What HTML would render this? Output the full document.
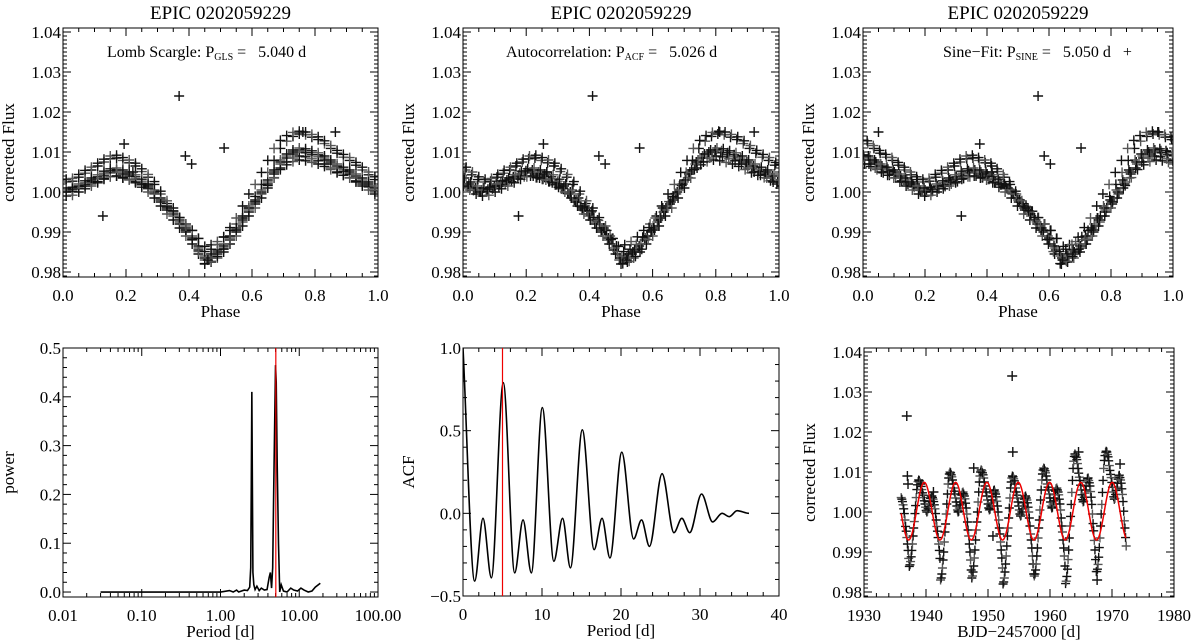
<!DOCTYPE html>
<html><head><meta charset="utf-8"><style>
html,body{margin:0;padding:0;background:#fff}
svg{display:block}
text{font-family:"Liberation Serif",serif;fill:#000}
</style></head><body>
<svg id="fig" width="1200" height="644" viewBox="0 0 1200 644" xmlns="http://www.w3.org/2000/svg"></svg>
<script>
// ---- light curve data (flux sampled every lcStep days from 1936.0) ----
const lcStart = 1936.0, lcStep = 0.1008;
const lcFlux = [
1.0036,1.0032,1.0026,1.0018,1.0008,.9996,.998,.9964,.9952,.9936,.992,.9904,.9884,
.9864,.9868,.9876,.9888,.9904,.992,.994,.996,.9976,.9996,1.0016,1.0036,1.0056,1.0068,1.0076,1.008,1.0078,1.0074,1.007,1.0064,1.0056,1.0048,1.0042,1.0036,1.0028,1.002,1.0012,1.0004,1.0,1.0002,1.0008,1.0014,1.002,1.0026,1.0034,1.0038,1.004,1.0036,1.0032,1.0026,1.0018,1.0008,.9996,.998,.9964,.9952,.9936,.992,.9904,.9884,
.983,.9835,.9845,.986,.988,.990,.9925,.995,.997,.9995,1.002,1.0045,1.007,1.0085,1.0095,1.010,1.0098,1.0093,1.0088,1.008,1.007,1.006,1.0052,1.0045,1.0035,1.0025,1.0015,1.0005,1.000,1.0002,1.001,1.0018,1.0025,1.0033,1.0042,1.0048,1.005,1.0045,1.004,1.0033,1.0022,1.001,.9995,.9975,.9955,.994,.992,.990,.988,.9855,
.9835,.984,.985,.9865,.9885,.9905,.993,.9955,.9975,1.0,1.0025,1.005,1.0075,1.009,1.01,1.0105,1.0103,1.0098,1.0093,1.0085,1.0075,1.0065,1.0057,1.005,1.004,1.003,1.002,1.001,1.0005,1.0007,1.0015,1.0023,1.003,1.0038,1.0047,1.0053,1.0055,1.005,1.0045,1.0038,1.0027,1.0015,1.0,.998,.996,.9945,.9925,.9905,.9885,.986,
.982,.9825,.9835,.985,.987,.989,.9915,.994,.996,.9985,1.001,1.0035,1.006,1.0075,1.0085,1.009,1.0088,1.0083,1.0078,1.007,1.006,1.005,1.0042,1.0035,1.0025,1.0015,1.0005,.9995,.999,.9992,1.0,1.0008,1.0015,1.0023,1.0032,1.0038,1.004,1.0035,1.003,1.0023,1.0012,1.0,.9985,.9965,.9945,.993,.991,.989,.987,.9845,
.984,.9845,.9855,.987,.989,.991,.9935,.996,.998,1.0005,1.003,1.0055,1.008,1.0095,1.0105,1.011,1.0108,1.0103,1.0098,1.009,1.008,1.007,1.0062,1.0055,1.0045,1.0035,1.0025,1.0015,1.001,1.0012,1.002,1.0028,1.0035,1.0043,1.0052,1.0058,1.006,1.0055,1.005,1.0043,1.0032,1.002,1.0005,.9985,.9965,.995,.993,.991,.989,.9865,
.9821,.9827,.9839,.9857,.9881,.9905,.9935,.9965,.9989,1.0019,1.0049,1.0079,1.0109,1.0127,1.0139,1.0145,1.0143,1.0137,1.0131,1.0121,1.0109,1.0097,1.0087,1.0079,1.0067,1.0055,1.0043,1.0031,1.0025,1.0027,1.0037,1.0047,1.0055,1.0065,1.0075,1.0083,1.0085,1.0079,1.0073,1.0065,1.0051,1.0037,1.0019,.9995,.9971,.9953,.9929,.9905,.9881,.9851,
.9851,.9857,.9869,.9887,.9911,.9935,.9965,.9995,1.0019,1.0049,1.0079,1.0109,1.0129,1.0141,1.0149,1.0152,1.0150,1.0144,1.0138,1.0128,1.0116,1.0104,1.0094,1.0086,1.0074,1.0062,1.0050,1.0038,1.0032,1.0034,1.0044,1.0054,1.0062,1.0072,1.0082,1.0090,1.0092,1.0086,1.0080,1.0072,1.0058,1.0044,1.0026,1.0002,.9978,.9960,.9936,.9915];
const outT = [1936.9,1937.0,1937.1,1941.2,1947.7,1950.8,1954.0,1964.6,1967.6,1971.3];
const outF = [1.024,1.009,1.007,1.005,1.011,0.994,1.015,1.015,0.983,1.012];
const extraT = [1953.9];
const extraF = [1.034];
// phase folding parameters [period, epoch]
const foldP = [5.040, 5.026, 5.050];
const foldT0 = [1935.042, 1934.839, 1934.048];
// sine fit [mean, amplitude, period, time of minimum]
const sineFit = [1.0002, 0.0072, 5.05, 1937.2];
// GLS periodogram
const glsPeriod = [0.03,0.3,1.0,1.3,1.45,1.6,1.7,2.0,2.2,2.35,2.42,2.46,2.5,2.54,2.58,2.65,2.75,2.9,3.1,3.3,3.6,3.9,4.15,4.3,4.45,4.6,4.75,4.9,5.0,5.1,5.25,5.45,5.65,5.9,6.3,7.0,7.8,8.5,9.5,10.5,11.5,13,14.5,16,18.5];
const glsPower  = [0,0,0.0,0.003,0,0.004,0,0.004,0.003,0.01,0.05,0.22,0.41,0.22,0.04,0.015,0.005,0.012,0.003,0.008,0.004,0.005,0.03,0.04,0.008,0.05,0.22,0.37,0.465,0.43,0.26,0.1,0.0,0.015,0.002,0.0,0.008,0.004,0.002,0.008,0.004,0,0.002,0.01,0.018];
const glsBest = 5.04;
// ACF extrema
const acfLag = [0,1.48,2.53,3.59,5.1,6.54,7.6,8.65,10.04,11.5,12.6,13.6,15.1,16.6,17.6,18.6,20.1,21.6,22.6,23.6,25.2,26.7,27.7,28.7,30.2,31.6,32.8,33.7,34.7,36.2];
const acfVal = [1.0,-0.41,-0.03,-0.39,0.79,-0.36,-0.04,-0.36,0.64,-0.29,-0.03,-0.33,0.505,-0.22,-0.03,-0.27,0.37,-0.155,-0.04,-0.2,0.24,-0.117,-0.03,-0.117,0.117,-0.052,0.0,-0.02,0.016,0.0];
const acfBest = 5.0;

const NS='http://www.w3.org/2000/svg';
const svg=document.getElementById('fig');
function el(tag,attrs,parent){const e=document.createElementNS(NS,tag);for(const k in attrs)e.setAttribute(k,attrs[k]);(parent||svg).appendChild(e);return e;}
function txt(s,x,y,size,anchor,parent){const t=el('text',{x:x,y:y,'font-size':size,'text-anchor':anchor||'middle'},parent);t.textContent=s;return t;}

function panel(name,box,xd,yd,o){
  const g=el('g',{});
  
  
  const [L,T,R,B]=box;
  const lx=o.logx;
  const sx=v=>lx? L+(Math.log10(v)-Math.log10(xd[0]))/(Math.log10(xd[1])-Math.log10(xd[0]))*(R-L) : L+(v-xd[0])/(xd[1]-xd[0])*(R-L);
  const sy=v=>B-(v-yd[0])/(yd[1]-yd[0])*(B-T);
  const ax=el('g',{stroke:'#000','stroke-width':1,fill:'none'},g);
  
  
  el('rect',{x:L,y:T,width:R-L,height:B-T},ax);
  const xl=el('g',{},g);
  
  
  if(lx){
    for(let d=Math.log10(xd[0]);d<=Math.log10(xd[1])+1e-9;d++){
      const v=Math.pow(10,d),x=sx(v);
      el('line',{x1:x,y1:B,x2:x,y2:B-8},ax);el('line',{x1:x,y1:T,x2:x,y2:T+8},ax);
      txt(o.xlabels[Math.round(d-Math.log10(xd[0]))],x,B+24,17,'middle',xl);
      if(v<xd[1]) for(let m=2;m<10;m++){const xm=sx(v*m);el('line',{x1:xm,y1:B,x2:xm,y2:B-4},ax);el('line',{x1:xm,y1:T,x2:xm,y2:T+4},ax);}
    }
  } else {
    const n=Math.round((xd[1]-xd[0])/o.xminor);
    for(let i=0;i<=n;i++){const v=xd[0]+i*o.xminor,x=sx(v);const maj=Math.abs(((v-xd[0])/o.xmajor)-Math.round((v-xd[0])/o.xmajor))<1e-6;const l=maj?8:4;
      el('line',{x1:x,y1:B,x2:x,y2:B-l},ax);el('line',{x1:x,y1:T,x2:x,y2:T+l},ax);}
    o.xticks.forEach((v,i)=>txt(o.xlabels[i],sx(v),B+24,17,'middle',xl));
  }
  const yl=el('g',{},g);
  
  
  const y0=Math.ceil(yd[0]/o.yminor-1e-6)*o.yminor;
  for(let v=y0;v<=yd[1]+1e-9;v+=o.yminor){const y=sy(v);const r=v/o.ymajor;const maj=Math.abs(r-Math.round(r))<1e-4;const l=maj?8:4;
    el('line',{x1:L,y1:y,x2:L+l,y2:y},ax);el('line',{x1:R,y1:y,x2:R-l,y2:y},ax);}
  o.yticks.forEach((v,i)=>txt(o.ylabels[i],L-2,sy(v)+6,17,'end',yl));
  const xt=txt(o.xtitle,(L+R)/2,B+40,17,'middle',g);
  
  
  const yt=txt(o.ytitle,0,0,17,'middle',g);
  yt.setAttribute('transform','translate('+(L-49)+','+((T+B)/2)+') rotate(-90)');
  
  
  if(o.title){const tt=txt(o.title,(L+R)/2,19,19,'middle',g);
    
    }
  const clipId='c'+name;
  const cp=el('clipPath',{id:clipId},g);el('rect',{x:L,y:T,width:R-L,height:B-T},cp);
  const plot=el('g',{'clip-path':'url(#'+clipId+')'},g);
  return {sx,sy,g,plot};
}
function plus(x,y,parent,a,col){el('path',{d:'M'+(x-a)+' '+y+'H'+(x+a)+'M'+x+' '+(y-a)+'V'+(y+a),stroke:col||'#111','stroke-width':1.4,fill:'none'},parent);}

const fluxOpts={yminor:0.001,ymajor:0.01,yticks:[0.98,0.99,1.00,1.01,1.02,1.03,1.04],ylabels:['0.98','0.99','1.00','1.01','1.02','1.03','1.04'],ytitle:'corrected Flux'};
const phaseOpts=Object.assign({xminor:0.05,xmajor:0.2,xticks:[0,0.2,0.4,0.6,0.8,1.0],xlabels:['0.0','0.2','0.4','0.6','0.8','1.0'],xtitle:'Phase',title:'EPIC 0202059229'},fluxOpts);
const boxes=[[63,28,378,277],[463,28,779,277],[863,28,1173,277]];
const NB='\u00a0';
const ann=[['Lomb Scargle: P','GLS',' ='+NB+NB+NB+'5.040 d',107],['Autocorrelation: P','ACF',' ='+NB+NB+NB+'5.026 d',506],['Sine\u2212Fit: P','SINE',' ='+NB+NB+NB+'5.050 d'+NB+NB+NB+'+',943]];
const names=['gls-phase-plot','acf-phase-plot','sine-phase-plot'];
for(let k=0;k<3;k++){
  const p=panel(names[k],boxes[k],[0,1],[0.97875,1.041],phaseOpts);
  const pts=el('g',{},p.plot);
  
  
  const fold=(t)=>{let ph=((t-foldT0[k])/foldP[k])%1;if(ph<0)ph+=1;return ph;};
  lcFlux.forEach((f,i)=>{const t=lcStart+i*lcStep;plus(p.sx(fold(t)),p.sy(f),pts,5,i%3?'#111':'#555');});
  outT.forEach((t,i)=>plus(p.sx(fold(t)),p.sy(outF[i]),pts,5,'#111'));
  const a=el('text',{x:ann[k][3],y:57,'font-size':16,'text-anchor':'start'},p.g);
  
  
  const s1=el('tspan',{},a);s1.textContent=ann[k][0];
  const s2=el('tspan',{'font-size':10,dy:3},a);s2.textContent=ann[k][1];
  const s3=el('tspan',{dy:-3},a);s3.textContent=ann[k][2];
}
// GLS periodogram
{
  const p=panel('gls-periodogram',[63,348,378,597],[0.01,100],[-0.0102,0.5],{logx:true,xlabels:['0.01','0.10','1.00','10.00','100.00'],yminor:0.02,ymajor:0.1,yticks:[0,0.1,0.2,0.3,0.4,0.5],ylabels:['0.0','0.1','0.2','0.3','0.4','0.5'],xtitle:'Period [d]',ytitle:'power'});
  const d=glsPeriod.map((v,i)=>(i?'L':'M')+p.sx(v).toFixed(2)+' '+p.sy(glsPower[i]).toFixed(2)).join('');
  const ln=el('path',{d:d,stroke:'#000','stroke-width':1.6,fill:'none'},p.plot);
  
  
  const r=el('line',{x1:p.sx(glsBest),x2:p.sx(glsBest),y1:348,y2:597,stroke:'#e00','stroke-width':1.2},p.plot);
  
  
}
// ACF
{
  const p=panel('acf-plot',[463,348,779,596],[0,40],[-0.5,1.0],{xminor:2,xmajor:10,xticks:[0,10,20,30,40],xlabels:['0','10','20','30','40'],yminor:0.1,ymajor:0.5,yticks:[-0.5,0,0.5,1.0],ylabels:['\u22120.5','0.0','0.5','1.0'],xtitle:'Period [d]',ytitle:'ACF'});
  let d='M'+p.sx(acfLag[0])+' '+p.sy(acfVal[0]);
  for(let i=1;i<acfLag.length;i++){const x0=p.sx(acfLag[i-1]),y0=p.sy(acfVal[i-1]),x1=p.sx(acfLag[i]),y1=p.sy(acfVal[i]);const dx=(x1-x0)/3;
    d+='C'+(x0+dx).toFixed(2)+' '+(i==1?(y0+(y1-y0)/3):y0).toFixed(2)+' '+(x1-dx).toFixed(2)+' '+y1.toFixed(2)+' '+x1.toFixed(2)+' '+y1.toFixed(2);}
  const ln=el('path',{d:d,stroke:'#000','stroke-width':1.6,fill:'none'},p.plot);
  
  
  const r=el('line',{x1:p.sx(acfBest),x2:p.sx(acfBest),y1:348,y2:596,stroke:'#e00','stroke-width':1.2},p.plot);
  
  
}
// Light curve
{
  const p=panel('light-curve-plot',[864,348,1174,597],[1930,1980],[0.97875,1.041],Object.assign({xminor:2,xmajor:10,xticks:[1930,1940,1950,1960,1970,1980],xlabels:['1930','1940','1950','1960','1970','1980'],xtitle:'BJD\u22122457000 [d]'},fluxOpts));
  const pts=el('g',{},p.plot);
  
  
  lcFlux.forEach((f,i)=>plus(p.sx(lcStart+i*lcStep),p.sy(f),pts,4.5,i%3?'#111':'#555'));
  outT.forEach((t,i)=>plus(p.sx(t),p.sy(outF[i]),pts,5,'#111'));
  extraT.forEach((t,i)=>plus(p.sx(t),p.sy(extraF[i]),pts,5,'#111'));
  let d='';const tEnd=lcStart+(lcFlux.length-1)*lcStep;
  for(let t=lcStart;t<=tEnd+1e-9;t+=0.05){const f=sineFit[0]-sineFit[1]*Math.cos(2*Math.PI*(t-sineFit[3])/sineFit[2]);d+=(d?'L':'M')+p.sx(t).toFixed(2)+' '+p.sy(f).toFixed(2);}
  const ln=el('path',{d:d,stroke:'#e00','stroke-width':1.5,fill:'none'},p.plot);
  
  
}
</script>
</body></html>
